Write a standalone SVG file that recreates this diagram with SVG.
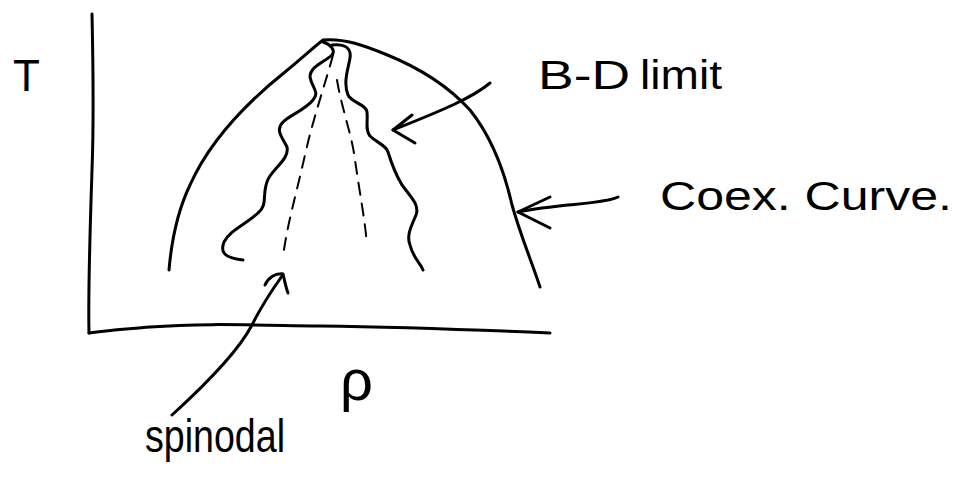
<svg xmlns="http://www.w3.org/2000/svg" width="955" height="477" viewBox="0 0 955 477">
<style>
.ln{fill:none;stroke:#000;stroke-width:3;stroke-linecap:round;stroke-linejoin:round}
.ds{fill:none;stroke:#000;stroke-width:2;stroke-dasharray:12 9;stroke-linecap:round}
.tx{font-family:"Liberation Sans",Arial,sans-serif;fill:#000}
</style>
<rect width="955" height="477" fill="#fff"/>
<g id="axes">
<path class="ln" d="M92,14 C93,60 94,120 92,170 C90,230 88,290 89,333"/>
<path class="ln" d="M89,333 C110,330 130,329 150,327 C200,323 250,325 320,326 C400,327 480,330 550,333"/>
<text class="tx" x="13" y="91" font-size="44">T</text>
<text class="tx" x="340" y="400" font-size="58">ρ</text>
</g>
<g id="coex-curve">
<path class="ln" d="M169,270 C172,235 178,210 190,185 C210,140 250,100 285,72 C300,60 315,46 323,40 C345,38 365,46 385,54 C420,68 450,88 470,110 C490,135 503,165 512,205 C522,240 532,262 540,287"/>
</g>
<g id="bd-limit">
<path class="ln" d="M323,42 C330,44 336,50 332,55 C325,62 310,66 310,77 C312,88 320,92 313,100 C305,110 290,115 283,122 C275,130 282,137 287,147 C290,160 270,170 267,182 C262,195 268,205 258,213 C245,225 230,230 224,242 C220,252 224,258 243,260"/>
<path class="ln" d="M332,45 C340,44 352,45 350,58 C348,70 343,82 348,95 C352,103 366,104 367,112 C368,122 365,130 370,136 C377,143 386,145 388,152 C392,165 396,175 402,185 C410,196 420,205 416,215 C412,225 406,235 410,245 C413,258 420,262 423,270"/>
</g>
<g id="spinodal">
<path class="ds" d="M333,55 C325,85 314,115 305,155 C296,195 287,225 283,257"/>
<path class="ds" d="M337,80 C342,110 352,135 355,160 C360,195 365,220 367,245"/>
</g>
<g id="labels">
<text class="tx" x="538" y="89" font-size="40" textLength="92" lengthAdjust="spacingAndGlyphs">B-D</text>
<text class="tx" x="640" y="89" font-size="40" textLength="82" lengthAdjust="spacingAndGlyphs">limit</text>
<text class="tx" x="660" y="210" font-size="40" textLength="292" lengthAdjust="spacingAndGlyphs">Coex. Curve.</text>
<text class="tx" x="145" y="452" font-size="46" textLength="140" lengthAdjust="spacingAndGlyphs">spinodal</text>
</g>
<g id="connectors">
<path class="ln" d="M490,83 C470,100 430,115 393,130"/>
<path class="ln" d="M412,115 L393,130 L415,143"/>
<path class="ln" d="M618,197 C600,205 560,203 518,212"/>
<path class="ln" d="M550,197 L518,212 L550,228"/>
<path class="ln" d="M172,415 C205,385 238,352 252,325 C262,305 272,290 282,276"/>
<path class="ln" d="M265,285 C268,278 275,273 283,274 C285,282 286,288 288,293"/>
</g>
</svg>
